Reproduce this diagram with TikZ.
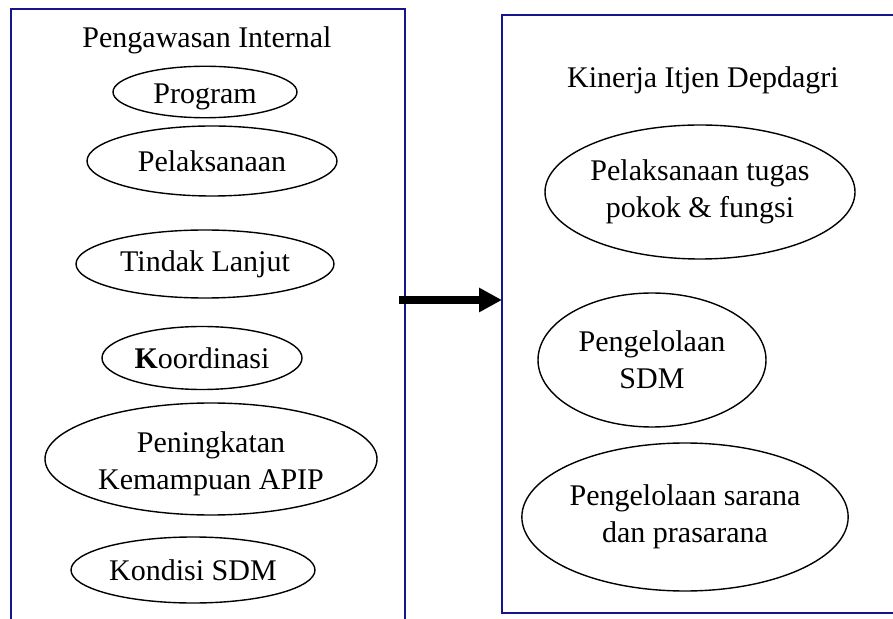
\documentclass[tikz,border=0pt]{standalone}
\usepackage{fontspec}
\setmainfont{Liberation Serif}
\usetikzlibrary{shapes.geometric,arrows.meta}
\definecolor{boxblue}{RGB}{20,20,140}
\tikzset{
  frame/.style={draw=boxblue,line width=1pt},
  oval/.style={draw,ellipse,line width=0.7pt,inner sep=0pt,align=center,
    font=\fontsize{15pt}{18.5pt}\selectfont},
  title/.style={font=\fontsize{15pt}{18.5pt}\selectfont,inner sep=0pt},
}
\begin{document}
\begin{tikzpicture}[x=0.5pt,y=-0.5pt]
\useasboundingbox (0,0) rectangle (893,619);
% frames
\draw[frame] (11,619) -- (11,9) -- (405,9) -- (405,619);
\draw[frame] (893,15) -- (502,15) -- (502,613) -- (893,613);
% left titles and ovals
\node[title] (t1) at (207,40) {Pengawasan Internal};
\node[oval,minimum width=92pt,minimum height=23pt,text height=15pt,text depth=3.2pt] (prog) at (205,92) {Program};
\node[oval,minimum width=125pt,minimum height=35pt] (pel) at (212,161) {Pelaksanaan};
\node[oval,minimum width=129pt,minimum height=34pt] (tl) at (205,264) {Tindak Lanjut};
\node[oval,minimum width=100pt,minimum height=31.5pt] (koor) at (202,358) {\textbf{K}oordinasi};
\node[oval,minimum width=166pt,minimum height=56pt,text height=34pt,text depth=3.4pt] (pen) at (211,459) {Peningkatan\\Kemampuan APIP};
\node[oval,minimum width=122pt,minimum height=33pt] (kon) at (193,570) {Kondisi SDM};
% right titles and ovals
\node[title] (t2) at (703,80) {Kinerja Itjen Depdagri};
\node[oval,minimum width=155pt,minimum height=67pt] (tug) at (700,192) {Pelaksanaan tugas\\pokok \& fungsi};
\node[oval,minimum width=114pt,minimum height=67pt] (sdm) at (652,360) {Pengelolaan\\SDM};
\node[oval,minimum width=162pt,minimum height=74pt] (sar) at (685,517) {Pengelolaan sarana\\dan prasarana};
% arrow
\coordinate (a1) at (399,300);
\coordinate (a2) at (502,300);
\draw[line width=4pt,-{Triangle[length=11.5pt,width=11.5pt]}] (a1) -- (a2);
\end{tikzpicture}
\end{document}
